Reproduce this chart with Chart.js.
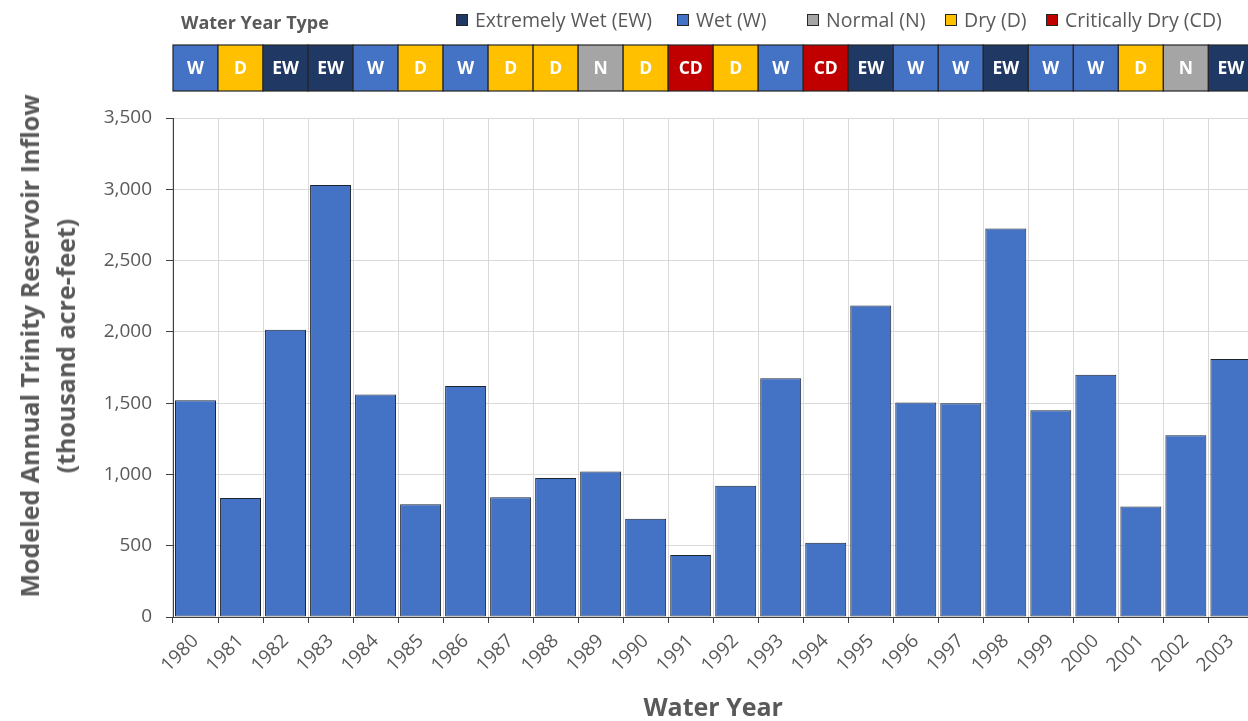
<!DOCTYPE html>
<html>
<head>
<meta charset="utf-8">
<script src="https://cdn.jsdelivr.net/npm/chart.js@4.4.1/dist/chart.umd.min.js"></script>
<style>
  body { margin: 0; overflow: hidden; background: #fff; font-family: "Open Sans", sans-serif; }
  #marco { position: relative; width: 1248px; height: 721px; overflow: hidden; }
  #grafico { position: absolute; left: 0; top: 0; }
  #titulo-tipo { position: absolute; left: 181px; top: 10px; font-weight: bold; font-size: 18px; color: #595959; }
  #leyenda { position: absolute; left: 0; top: 6px; width: 1248px; height: 30px; font-size: 19.5px; color: #595959; }
  .item { position: absolute; top: 0; display: flex; align-items: center; white-space: nowrap; }
  .item:nth-child(1) { left: 456px; }
  .item:nth-child(2) { left: 677px; }
  .item:nth-child(3) { left: 807px; }
  .item:nth-child(4) { left: 945px; }
  .item:nth-child(5) { left: 1046px; }
  .caja { width: 10px; height: 10px; border: 1px solid #262626; margin-right: 7px; }
  #titulo-y { position: absolute; left: 47px; top: 346px; transform: translate(-50%, -50%) rotate(-90deg);
    white-space: nowrap; text-align: center; font-weight: bold; font-size: 25px; line-height: 36px; color: #595959; }
</style>
</head>
<body>
<div id="marco">
  <canvas id="grafico" width="1254" height="721"></canvas>
  <div id="titulo-tipo">Water Year Type</div>
  <div id="leyenda"></div>
  <div id="titulo-y">Modeled Annual Trinity Reservoir Inflow<br>(thousand acre-feet)</div>
</div>
<script>
// datos
const anios = ['1980','1981','1982','1983','1984','1985','1986','1987','1988','1989','1990','1991',
  '1992','1993','1994','1995','1996','1997','1998','1999','2000','2001','2002','2003'];
const afluencia = [1520, 835, 2015, 3030, 1560, 790, 1620, 840, 975, 1020, 690, 435,
  920, 1675, 520, 2185, 1505, 1500, 2725, 1450, 1700, 775, 1275, 1810];
const tipoAnio = ['W','D','EW','EW','W','D','W','D','D','N','D','CD',
  'D','W','CD','EW','W','W','EW','W','W','D','N','EW'];
const tiposCodigo = ['EW', 'W', 'N', 'D', 'CD'];
const tiposNombre = ['Extremely Wet (EW)', 'Wet (W)', 'Normal (N)', 'Dry (D)', 'Critically Dry (CD)'];
const ticksY = [0, 500, 1000, 1500, 2000, 2500, 3000, 3500];

const coloresTipo = { EW: '#203864', W: '#4472C4', N: '#A5A5A5', D: '#FFC000', CD: '#C00000' };
const gris = '#595959';

function armarLeyenda() {
  const nodo = document.getElementById('leyenda');
  for (var i = 0; i < tiposCodigo.length; i++) {
    var item = document.createElement('div');
    item.className = 'item';
    var caja = document.createElement('span');
    caja.className = 'caja';
    caja.style.background = coloresTipo[tiposCodigo[i]];
    item.appendChild(caja);
    item.appendChild(document.createTextNode(tiposNombre[i]));
    nodo.appendChild(item);
  }
}
armarLeyenda();

// franja de tipos de anio encima del area de trazado
const franjaTipos = {
  id: 'franjaTipos',
  afterDraw(chart) {
    const ctx = chart.ctx;
    const x = chart.scales.x;
    const area = chart.chartArea;
    const ancho = x.width / anios.length;
    const alto = 46;
    const arriba = area.top - 73;
    ctx.save();
    tipoAnio.forEach((t, i) => {
      const cx = x.getPixelForValue(i);
      const x0 = cx - ancho / 2;
      ctx.fillStyle = coloresTipo[t];
      ctx.fillRect(x0, arriba, ancho, alto);
      ctx.strokeStyle = '#262626';
      ctx.lineWidth = 1.2;
      ctx.strokeRect(x0, arriba, ancho, alto);
      ctx.fillStyle = '#fff';
      ctx.font = 'bold 17.5px "Open Sans"';
      ctx.textAlign = 'center';
      ctx.textBaseline = 'middle';
      ctx.fillText(t, cx, arriba + alto / 2 + 1);
    });
    ctx.restore();
  }
};

const ctx = document.getElementById('grafico').getContext('2d');
const grafico = new Chart(ctx, {
  type: 'bar',
  data: {
    labels: anios,
    datasets: [{
      label: 'Modeled Annual Trinity Reservoir Inflow',
      data: afluencia,
      backgroundColor: '#4472C4',
      borderColor: '#1c2430',
      borderWidth: 1,
      borderSkipped: false,
      barPercentage: 0.91,
      categoryPercentage: 1
    }]
  },
  options: {
    responsive: false,
    animation: false,
    devicePixelRatio: 1,
    locale: 'en-US',
    layout: { padding: { top: 118, left: 0, right: 0, bottom: 0 } },
    plugins: { legend: { display: false }, tooltip: { enabled: false } },
    scales: {
      x: {
        afterFit: s => { s.height = 104; },
        grid: { color: '#D9D9D9', tickColor: '#404040', tickLength: 6, offset: true },
        border: { color: '#404040', width: 1 },
        ticks: {
          color: gris, font: { family: 'Open Sans', size: 19 },
          maxRotation: 45, minRotation: 45, autoSkip: false, padding: 7
        },
        title: {
          display: true, text: 'Water Year', color: gris,
          font: { family: 'Open Sans', size: 25, weight: 'bold' },
          padding: { top: 0, bottom: -3 }
        }
      },
      y: {
        afterFit: s => { s.width = 173; },
        min: ticksY[0],
        max: ticksY[ticksY.length - 1],
        grid: { color: '#D9D9D9', tickColor: '#404040', tickLength: 7 },
        border: { color: '#404040', width: 1 },
        ticks: {
          stepSize: ticksY[1] - ticksY[0],
          color: gris, font: { family: 'Open Sans', size: 19 }, padding: 14
        }
      }
    }
  },
  plugins: [franjaTipos]
});
</script>
</body>
</html>
